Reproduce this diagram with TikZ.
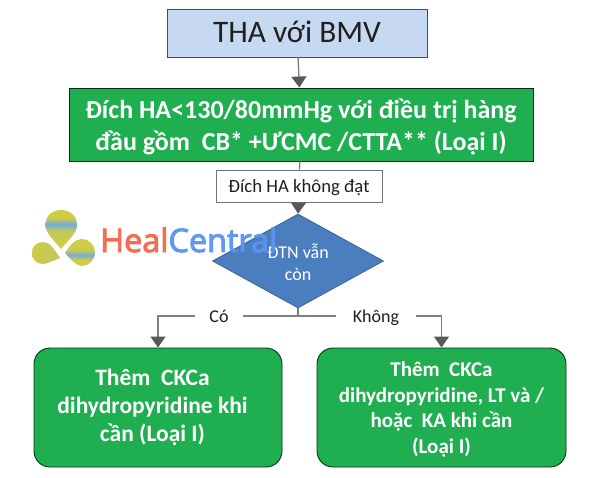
\documentclass[tikz,border=0pt]{standalone}
\usepackage{fontspec}
\setmainfont{Carlito}
\newfontfamily\logofont[FakeBold=3]{Open Sans}
\usetikzlibrary{shapes.geometric,arrows.meta}
\definecolor{boxblue}{HTML}{C6D9F1}
\definecolor{boxgreen}{HTML}{1FAE50}
\definecolor{dia}{HTML}{4A7EBE}
\definecolor{diaedge}{HTML}{3A6595}
\definecolor{conn}{HTML}{7F7F7F}
\definecolor{tipc}{HTML}{595959}
\definecolor{ylw}{HTML}{CDCB3A}
\definecolor{lblue}{HTML}{6FA8D8}
\definecolor{hcor}{HTML}{F4694A}
\definecolor{hcbl}{HTML}{5B94F0}
\definecolor{ink}{HTML}{1F1F1F}
\pgfdeclareverticalshading{bandhigh}{100bp}{color(0bp)=(ylw); color(30bp)=(ylw); color(48bp)=(ylw!85!lblue); color(57bp)=(lblue); color(65bp)=(ylw); color(100bp)=(ylw)}
\pgfdeclareverticalshading{bandlow}{100bp}{color(0bp)=(ylw); color(36bp)=(ylw); color(45bp)=(lblue); color(54bp)=(ylw!85!lblue); color(62bp)=(ylw); color(100bp)=(ylw)}
\newcommand{\lowertext}[2]{\raisebox{-#1}[\height][\depth]{\begin{tabular}{@{}c@{}}#2\end{tabular}}}
\tikzset{
  flowbox/.style={draw=#1,line width=0.9pt,inner sep=0pt,align=center,anchor=center},
  conn/.style={draw=conn,line width=1.3pt},
  tipped/.style={conn,-{Triangle[length=11pt,width=15pt,color=tipc]}},
  edgelabel/.style={inner sep=0pt,font=\fontsize{18}{20}\selectfont,text=ink,minimum height=18pt},
  petal/.style={draw=none,opacity=0.95}
}
\begin{document}
\begin{tikzpicture}[x=1pt,y=-1pt]
\useasboundingbox[fill=white] (0,0) rectangle (600,477);
% nodes
\node[flowbox=diaedge!80!black,fill=boxblue,minimum width=260pt,minimum height=48pt,
  font=\fontsize{31.3}{34}\selectfont,text=ink] (start) at (297,33) {\lowertext{3pt}{THA với BMV}};
\node[flowbox=black!75!boxgreen,fill=boxgreen,minimum width=464pt,minimum height=73pt,
  text=white] (target) at (301,124.5)
  {\fontsize{26}{30}\bfseries\selectfont\lowertext{4pt}{Đích HA<130/80mmHg với điều trị hàng\\[2pt]đầu gồm\ \ CB* +ƯCMC /CTTA** (Loại I)}};
\node[flowbox=black!55,fill=white,minimum width=166pt,minimum height=32pt,
  font=\fontsize{18.7}{20}\selectfont,text=ink] (miss) at (299,186) {\lowertext{2pt}{Đích HA không đạt}};
\node[diamond,draw=diaedge,fill=dia,line width=0.8pt,inner sep=0pt,aspect=1.82,
  minimum width=171pt,minimum height=94pt,text=white,
  font=\fontsize{18}{22}\selectfont] (dtn) at (298,261) {\lowertext{4pt}{ĐTN vẫn\\còn}};
\coordinate (junction) at (298,316);
\node[edgelabel,minimum width=48pt] (co) at (219,316) {\lowertext{2pt}{Có}};
\node[edgelabel,minimum width=80pt] (khong) at (376,316) {\lowertext{2pt}{Không}};
\node[flowbox=black!70!boxgreen,fill=boxgreen,rounded corners=16pt,minimum width=248pt,minimum height=119pt,
  text=white,font=\bfseries\fontsize{23.5}{28}\selectfont] (left) at (158,407.5)
  {\begin{tabular}{@{}c@{}}Thêm\ \ CKCa\\dihydropyridine khi\\cần (Loại I)\end{tabular}\hspace{11pt}};
\node[flowbox=black!70!boxgreen,fill=boxgreen,rounded corners=16pt,minimum width=249pt,minimum height=119pt,
  text=white,font=\bfseries\fontsize{21}{25.5}\selectfont] (right) at (441.5,407.5)
  {\lowertext{2.5pt}{Thêm\ \ CKCa\\dihydropyridine, LT và /\\hoặc\ \ KA khi cần\\(Loại I)}};
% connectors
\draw[tipped] (start) -- (target);
\draw[conn] (target) -- (miss);
\draw[tipped] (miss) -- (dtn.north);
\draw[conn] (dtn.south) -- (junction);
\draw[conn] (junction) -- (co.east);
\draw[conn] (junction) -- (khong.west);
\draw[tipped] (co.west) -| (left.north);
\draw[tipped] (khong.east) -| (right.north);
% logo
\shade[petal,shading=bandhigh]
  (61,249) .. controls (52,238) and (45.5,233) .. (45.5,225)
  .. controls (45.5,215) and (53,210) .. (61,210)
  .. controls (69,210) and (77,215) .. (77,225)
  .. controls (77,233) and (70,238) .. (61,249) -- cycle;
\shade[petal,left color=ylw,right color=ylw!80!lblue]
  (60,258) .. controls (50,262) and (46,264) .. (43,264)
  .. controls (36,264) and (32,259) .. (32,253)
  .. controls (32,246) and (37,242) .. (43,242)
  .. controls (50,242) and (54,249) .. (60,258) -- cycle;
\shade[petal,shading=bandlow]
  (65,253) .. controls (70,245) and (75,239) .. (82,239)
  .. controls (89,239) and (95,245) .. (95,252)
  .. controls (95,260) and (89,266) .. (82,266)
  .. controls (77,266) and (72,261) .. (65,253) -- cycle;
\node[anchor=base west,inner sep=0pt,font=\logofont\fontsize{32.4}{34}\selectfont,opacity=0.95] (logo) at (100,252)
  {\textcolor{hcor}{Heal}\textcolor{hcbl}{Central}};
\end{tikzpicture}
\end{document}
